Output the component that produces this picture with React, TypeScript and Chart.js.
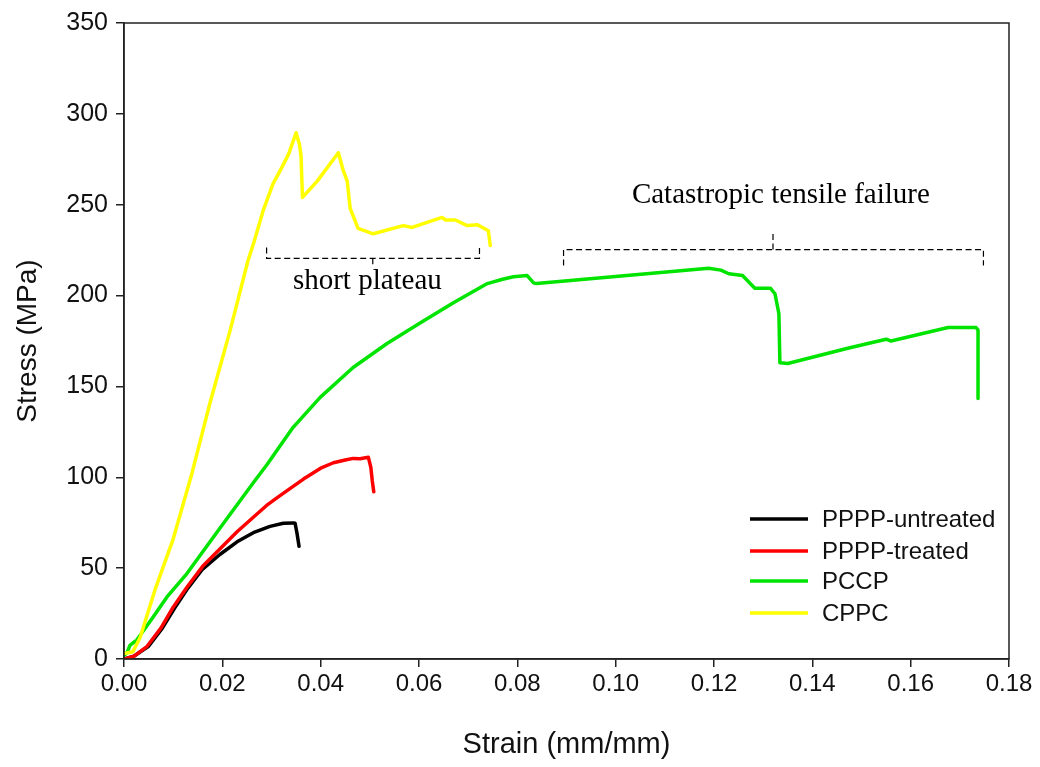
import React, { useEffect, useRef } from 'react';
import { Chart, registerables } from 'chart.js';

Chart.register(...registerables);

const seriesLabels = ['PPPP-untreated', 'PPPP-treated', 'PCCP', 'CPPC'];
const seriesColors = ['#000000', '#ff0000', '#00e400', '#ffff00'];

const untreatedStrain = [0, 0.002, 0.005, 0.0078, 0.0103, 0.013, 0.016, 0.0195, 0.023, 0.0263, 0.0297, 0.0324, 0.0344, 0.0348, 0.0352, 0.0356];
const untreatedStress = [0, 1.5, 7, 17, 28, 39, 49.5, 57.5, 64.5, 69.5, 73, 74.7, 74.9, 74.7, 69, 62];

const treatedStrain = [0, 0.002, 0.0047, 0.0075, 0.01, 0.0128, 0.016, 0.0195, 0.023, 0.0263, 0.029, 0.0318, 0.0365, 0.04, 0.0426, 0.045, 0.0466, 0.048, 0.0497, 0.0502, 0.0505, 0.0508];
const treatedStress = [0, 1.5, 7, 17, 28.5, 39.5, 51, 60.5, 70, 78, 84.5, 90, 99, 105, 108, 109.5, 110.4, 110.2, 111, 105.5, 98, 92];

const pccpStrain = [0, 0.0006, 0.0012, 0.0018, 0.0026, 0.0059, 0.0087, 0.0128, 0.0195, 0.0263, 0.0291, 0.0318, 0.0344, 0.0399, 0.0466, 0.0535, 0.0603, 0.067, 0.0739, 0.077, 0.0792, 0.082, 0.0833, 0.0839, 0.1189, 0.1214, 0.123, 0.1258, 0.1283, 0.1315, 0.1324, 0.1328, 0.1332, 0.1334, 0.135, 0.1472, 0.155, 0.156, 0.1676, 0.1733, 0.1737, 0.1737];
const pccpStress = [2, 3.3, 7.5, 8.8, 10.4, 23, 34, 47, 72, 97, 107, 117.5, 127.5, 144, 160.4, 173.6, 185, 196, 206.6, 209, 210.4, 211, 207, 206.6, 215, 214, 212, 211, 204, 204, 201, 195.6, 190, 163, 162.6, 171, 176, 175, 182.4, 182.4, 181, 143.4];

const cppcStrain = [0, 0.0018, 0.0033, 0.0063, 0.01, 0.0138, 0.0175, 0.0216, 0.0252, 0.0265, 0.0283, 0.0303, 0.0314, 0.032, 0.0335, 0.035, 0.0357, 0.036, 0.0363, 0.0393, 0.0436, 0.0446, 0.0454, 0.046, 0.0476, 0.0507, 0.0568, 0.0586, 0.0647, 0.0654, 0.0674, 0.0698, 0.0719, 0.0741, 0.0745];
const cppcStress = [3, 4, 12, 38, 66, 102, 141, 181, 219, 230, 246.7, 261.5, 267, 270, 278, 289.6, 283, 277, 254, 263, 278.6, 268.7, 263, 248, 237, 234, 238.5, 237.5, 243, 241.6, 241.6, 238.5, 239, 235.7, 227.5];

const xTickValues = [0, 0.02, 0.04, 0.06, 0.08, 0.1, 0.12, 0.14, 0.16, 0.18];
const yTickValues = [0, 50, 100, 150, 200, 250, 300, 350];

const xTitle = 'Strain (mm/mm)';
const yTitle = 'Stress (MPa)';
const plateauNote = 'short plateau';
const failureNote = 'Catastropic tensile failure';

const toPoints = (xs: number[], ys: number[]) => xs.map((x, i) => ({ x, y: ys[i] }));

const AXIS_COLOR = '#222222';
const SANS = '"Liberation Sans", Arial, sans-serif';
const SERIF = '"Liberation Serif", "Times New Roman", serif';

const framePlugin = {
  id: 'frame',
  afterDraw(chart: any) {
    const { ctx, chartArea: a } = chart;
    ctx.save();
    ctx.strokeStyle = AXIS_COLOR;
    ctx.lineWidth = 1.5;
    ctx.strokeRect(a.left, a.top, a.right - a.left, a.bottom - a.top);
    ctx.restore();
  },
};

const annotationPlugin = {
  id: 'notes',
  afterDatasetsDraw(chart: any) {
    const { ctx } = chart;
    const xs = chart.scales.x;
    const ys = chart.scales.y;
    const px = (v: number) => xs.getPixelForValue(v);
    const py = (v: number) => ys.getPixelForValue(v);
    ctx.save();
    ctx.strokeStyle = '#000';
    ctx.lineWidth = 1.2;
    ctx.setLineDash([6, 3.5]);
    // short plateau bracket (opens upward, tick points down)
    ctx.beginPath();
    ctx.moveTo(px(0.029), py(226.5));
    ctx.lineTo(px(0.029), py(220.5));
    ctx.lineTo(px(0.0723), py(220.5));
    ctx.lineTo(px(0.0723), py(226.5));
    ctx.stroke();
    ctx.beginPath();
    ctx.moveTo(px(0.0506), py(220.5));
    ctx.lineTo(px(0.0506), py(215.5));
    ctx.stroke();
    // catastrophic failure bracket (opens downward, tick points up)
    ctx.beginPath();
    ctx.moveTo(px(0.0894), py(216.5));
    ctx.lineTo(px(0.0894), py(225.3));
    ctx.lineTo(px(0.1748), py(225.3));
    ctx.lineTo(px(0.1748), py(216.5));
    ctx.stroke();
    ctx.beginPath();
    ctx.moveTo(px(0.132), py(225.3));
    ctx.lineTo(px(0.132), py(234));
    ctx.stroke();
    ctx.setLineDash([]);
    ctx.fillStyle = '#000';
    ctx.font = `29px ${SERIF}`;
    ctx.textAlign = 'center';
    ctx.textBaseline = 'middle';
    ctx.fillText(plateauNote, px(0.0495), py(208));
    ctx.fillText(failureNote, px(0.1336), py(255));
    ctx.restore();
  },
};

const legendPlugin = {
  id: 'insideLegend',
  afterDraw(chart: any) {
    const { ctx, chartArea: a } = chart;
    const rowOffsets = [-140, -108, -78, -46];
    ctx.save();
    ctx.font = `24px ${SANS}`;
    ctx.textAlign = 'left';
    ctx.textBaseline = 'middle';
    chart.data.datasets.forEach((ds: any, i: number) => {
      const y = a.bottom + rowOffsets[i];
      ctx.strokeStyle = ds.borderColor;
      ctx.lineWidth = 3.5;
      ctx.beginPath();
      ctx.moveTo(a.right - 259, y);
      ctx.lineTo(a.right - 201, y);
      ctx.stroke();
      ctx.fillStyle = '#111';
      ctx.fillText(ds.label, a.right - 187, y + 1);
    });
    ctx.restore();
  },
};

export default function App() {
  const canvasRef = useRef<HTMLCanvasElement | null>(null);

  useEffect(() => {
    const canvas = canvasRef.current;
    if (!canvas) return;
    const seriesData = [
      toPoints(untreatedStrain, untreatedStress),
      toPoints(treatedStrain, treatedStress),
      toPoints(pccpStrain, pccpStress),
      toPoints(cppcStrain, cppcStress),
    ];
    const chart = new Chart(canvas, {
      type: 'scatter',
      data: {
        datasets: seriesData.map((d, i) => ({
          label: seriesLabels[i],
          data: d,
          showLine: true,
          borderColor: seriesColors[i],
          backgroundColor: seriesColors[i],
          borderWidth: 3.5,
          pointRadius: 0,
          tension: 0,
          order: 4 - i,
          borderJoinStyle: 'round' as const,
          borderCapStyle: 'round' as const,
        })),
      },
      options: {
        responsive: false,
        animation: false,
        devicePixelRatio: 1,
        layout: { padding: { top: 22, right: 31, left: 0, bottom: 0 } },
        plugins: { legend: { display: false }, tooltip: { enabled: false } },
        scales: {
          x: {
            type: 'linear',
            min: 0,
            max: 0.18,
            afterBuildTicks: (s: any) => { s.ticks = xTickValues.map((v) => ({ value: v })); },
            afterFit: (s: any) => { s.height = 108; },
            ticks: {
              color: '#111',
              font: { family: SANS, size: 24 },
              padding: 3,
              maxRotation: 0,
              autoSkip: false,
              callback: (v: any) => Number(v).toFixed(2),
            },
            grid: { drawOnChartArea: false, drawTicks: true, tickLength: 8, color: AXIS_COLOR, lineWidth: 1.5 },
            border: { display: true, color: AXIS_COLOR, width: 1.5 },
            title: {
              display: true,
              text: xTitle,
              color: '#111',
              font: { family: SANS, size: 29, lineHeight: 1 },
              padding: { top: 0, bottom: 8 },
            },
          },
          y: {
            type: 'linear',
            min: 0,
            max: 350,
            afterBuildTicks: (s: any) => { s.ticks = yTickValues.map((v) => ({ value: v })); },
            afterFit: (s: any) => { s.width = 124; },
            ticks: {
              color: '#111',
              font: { family: SANS, size: 25 },
              padding: 8,
              autoSkip: false,
              callback: (v: any) => String(v),
            },
            grid: { drawOnChartArea: false, drawTicks: true, tickLength: 8, color: AXIS_COLOR, lineWidth: 1.5 },
            border: { display: true, color: AXIS_COLOR, width: 1.5 },
            title: {
              display: true,
              text: yTitle,
              color: '#111',
              font: { family: SANS, size: 28, lineHeight: 1 },
              padding: { top: 14, bottom: 0 },
            },
          },
        },
      },
      plugins: [framePlugin, annotationPlugin, legendPlugin],
    });
    return () => chart.destroy();
  }, []);

  return (
    <div style={{ position: 'fixed', left: 0, top: 0, width: 1040, height: 767, background: '#fff' }}>
      <canvas ref={canvasRef} width={1040} height={767} style={{ display: 'block' }} />
    </div>
  );
}
